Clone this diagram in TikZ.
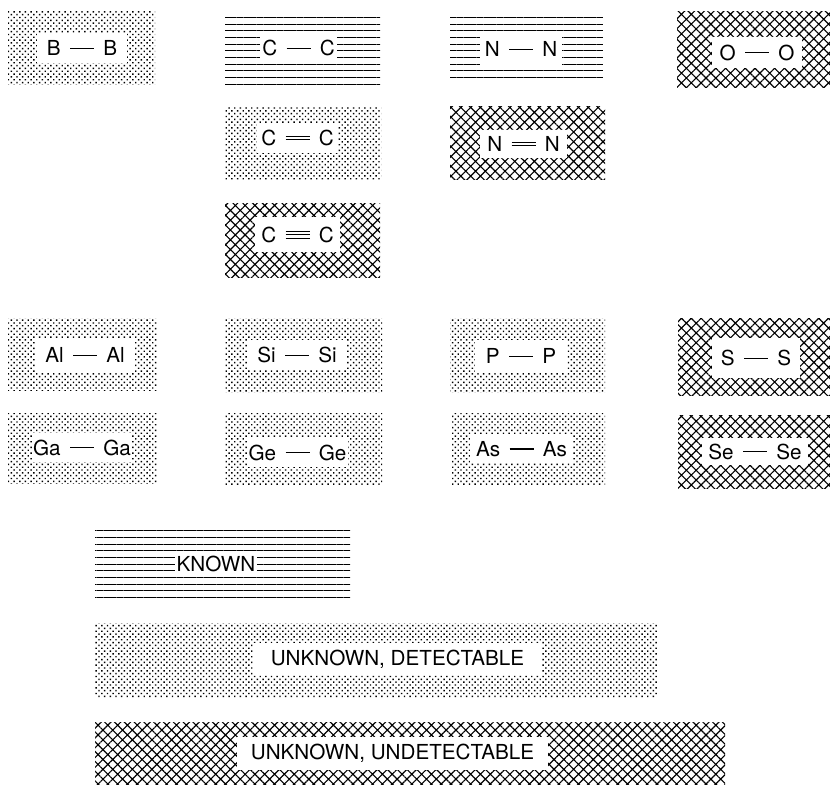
\documentclass[tikz,border=0pt]{standalone}
\usepackage{fontspec}
\setmainfont{TeX Gyre Heros}
\usetikzlibrary{patterns.meta,fit}

\newcommand\bondi{\hspace{7pt}\rule[0.33em]{18pt}{0.8pt}\hspace{7pt}}
\newcommand\bondii{\hspace{7pt}\rlap{\rule[0.25em]{18pt}{0.7pt}}\rule[0.43em]{18pt}{0.7pt}\hspace{7pt}}
\newcommand\bondiii{\hspace{7pt}\rlap{\rule[0.17em]{18pt}{0.7pt}}\rlap{\rule[0.34em]{18pt}{0.7pt}}\rule[0.51em]{18pt}{0.7pt}\hspace{7pt}}

\begin{document}
\begin{tikzpicture}[
  x=0.75pt,y=-0.75pt,
  font=\fontsize{15.5}{18}\selectfont,
  every node/.style={inner sep=0pt},
  dotbox/.style={pattern={Dots[angle=45,distance=3pt,radius=0.75pt]}},
  linebox/.style={pattern={Lines[angle=0,distance=5pt,line width=0.7pt]}},
  hatchbox/.style={pattern={Hatch[angle=45,distance=5.2pt,line width=0.85pt]}},
  tag/.style 2 args={fill=white,minimum width={#1*0.75pt},minimum height={#2*0.75pt}}
]
\useasboundingbox (0,0) rectangle (830,784);
% second period
\node[dotbox,fit={(8,12)(155,85)}] (bb) {};
\node[tag={90}{30}] (bbt) at (82,48) {B\bondi B};
\node[linebox,fit={(225,12)(380,86)}] (cc1) {};
\node[tag={77}{30}] (cc1t) at (298.5,48) {C\bondi C};
\node[linebox,fit={(450,13)(603,84)}] (nn1) {};
\node[tag={82}{32}] (nn1t) at (521,49) {N\bondi N};
\node[hatchbox,fit={(677,12)(830,88)}] (oo) {};
\node[tag={90}{31}] (oot) at (757,52.5) {O\bondi O};
\node[dotbox,fit={(225,107)(381,180)}] (cc2) {};
\node[tag={81}{30}] (cc2t) at (297.5,138) {C\bondii C};
\node[hatchbox,fit={(450,107)(605,180)}] (nn2) {};
\node[tag={87}{28}] (nn2t) at (523.5,144) {N\bondii N};
\node[hatchbox,fit={(225,203)(380,277)}] (cc3) {};
\node[tag={85}{35}] (cc3t) at (297.5,234.5) {C\bondiii C};
% third and fourth periods
\node[dotbox,fit={(8,318)(157,390)}] (alal) {};
\node[tag={100}{34}] (alalt) at (85,355) {Al\bondi Al};
\node[dotbox,fit={(225,318)(382,392)}] (sisi) {};
\node[tag={100}{30}] (sisit) at (297,355) {Si\bondi Si};
\node[dotbox,fit={(450,318)(605,392)}] (pp) {};
\node[tag={92}{32}] (ppt) at (521,356) {P\bondi P};
\node[hatchbox,fit={(678,318)(830,395)}] (ss) {};
\node[tag={88}{40}] (sst) at (756,358) {S\bondi S};
\node[dotbox,fit={(8,413)(157,483)}] (gaga) {};
\node[tag={100}{29}] (gagat) at (82,447.5) {Ga\bondi Ga};
\node[dotbox,fit={(225,413)(382,485)}] (gege) {};
\node[tag={101}{29}] (geget) at (297.5,452.5) {Ge\bondi Ge};
\node[dotbox,fit={(452,413)(605,485)}] (asas) {};
\node[tag={103}{28}] (asast) at (521.5,449) {As\bondi As};
\node[hatchbox,fit={(678,415)(830,488)}] (sese) {};
\node[tag={106}{27}] (seset) at (755,451.5) {Se\bondi Se};
% key
\node[linebox,fit={(95,528)(350,600)}] (known) {};
\node[tag={82}{26}] (knownt) at (216,564) {KNOWN};
\node[dotbox,fit={(95,623)(657,697)}] (detect) {};
\node[tag={289}{32}] (detectt) at (397.5,659) {UNKNOWN, DETECTABLE};
\node[hatchbox,fit={(95,722)(725,784)}] (undetect) {};
\node[tag={311}{33}] (undetectt) at (392.5,753.5) {UNKNOWN, UNDETECTABLE};
\end{tikzpicture}
\end{document}
